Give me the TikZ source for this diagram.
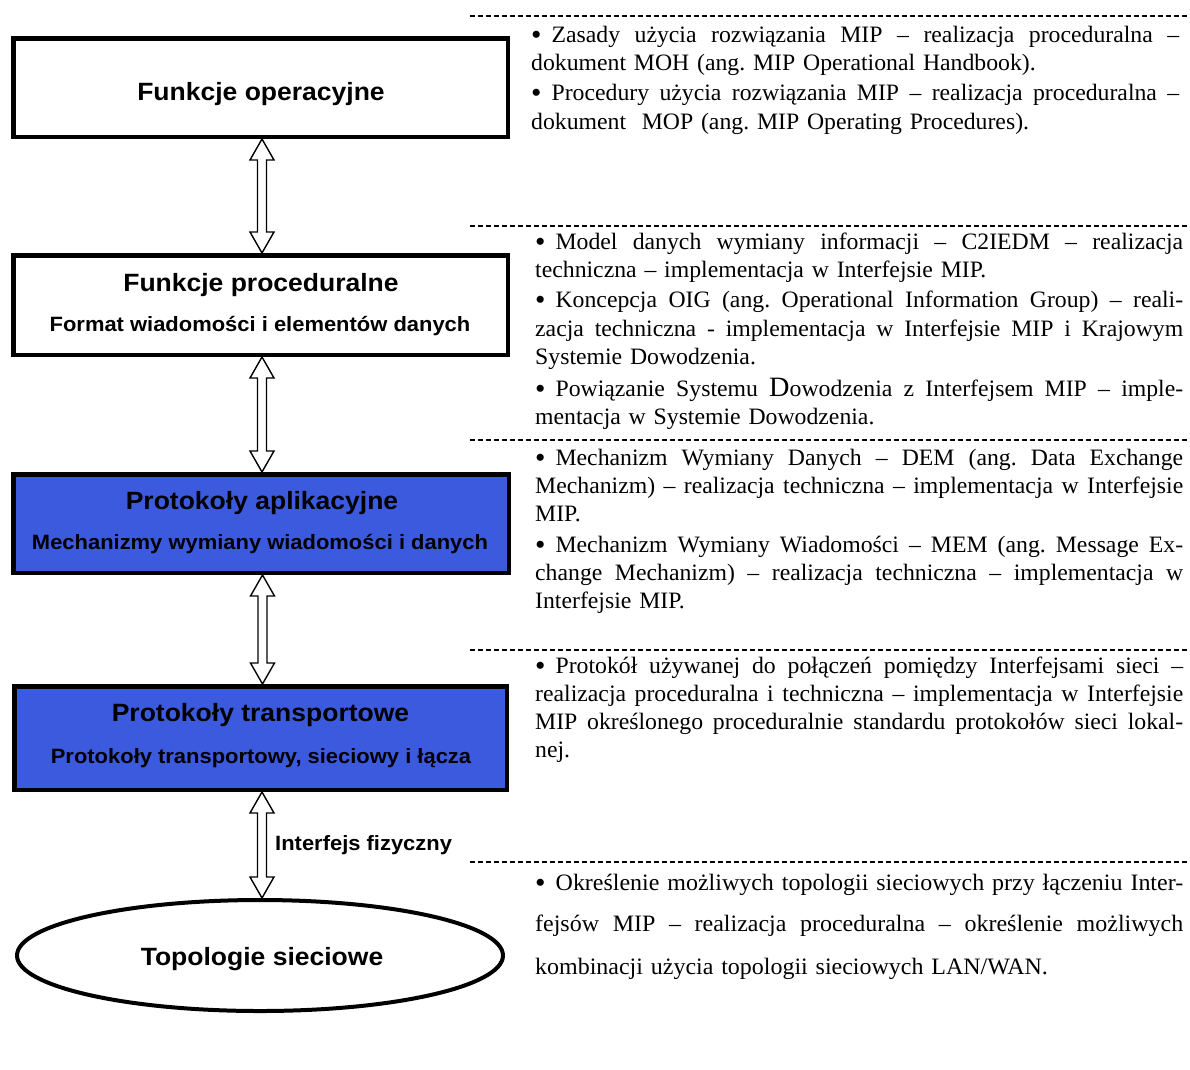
\documentclass[tikz,border=0pt]{standalone}
\usepackage{fontspec}
\setmainfont{Liberation Serif}
\newfontfamily\arialb[FakeStretch=1.06]{Liberation Sans}
\newfontfamily\rtfont[FakeStretch=1.01]{Liberation Serif}
\newfontfamily\rtfontn[FakeStretch=1.02]{Liberation Serif}
\usetikzlibrary{shapes.geometric,calc}
\definecolor{boxblue}{RGB}{60,90,222}
\newcommand\jline[1]{\hbox to 648pt{\spaceskip=\fontdimen2\font plus 1fil\relax #1}}
\newcommand\lline[1]{\hbox{#1}}
\newcommand\bul{\raisebox{-2pt}{\scalebox{1.25}{•}}\hskip 10pt\relax}
\newcommand\hollowarrow[2]{%
  \draw[harrow] let \p1=(#1), \p2=(#2) in
  (\x1+1.5pt,\y1) -- (\x1+13.5pt,\y1-21pt) -- (\x1+6pt,\y1-21pt) -- (\x1+6pt,\y2+21pt)
  -- (\x1+13.5pt,\y2+21pt) -- (\x1+1.5pt,\y2) -- (\x1-10.5pt,\y2+21pt) -- (\x1-3pt,\y2+21pt)
  -- (\x1-3pt,\y1-21pt) -- (\x1-10.5pt,\y1-21pt) -- cycle;}
\tikzset{
  box/.style={draw=black, line width=4.5pt, rectangle, inner sep=0pt},
  bluebox/.style={box, fill=boxblue},
  ttl/.style={font=\arialb\bfseries\fontsize{25}{30}\selectfont, inner sep=0pt, anchor=base},
  sub/.style={font=\arialb\bfseries\fontsize{20.7}{25}\selectfont, inner sep=0pt, anchor=base},
  harrow/.style={draw=black, fill=white, line width=1.4pt, line join=miter},
  dline/.style={dashed, dash pattern=on 4.5pt off 3.5pt, line width=1.1pt},
  txt/.style={font=\rtfont\fontsize{23.5}{28.2}\selectfont\frenchspacing, text width=648pt, inner sep=0pt, anchor=base west},
}
\begin{document}
\begin{tikzpicture}[x=1pt,y=-1pt]
\useasboundingbox (0,0) rectangle (1190,1069);
\fill[white] (0,0) rectangle (1190,1069);

% boxes
\node[box, minimum width=494.5pt, minimum height=98.5pt] (b1) at (260.5,87.5) {};
\node[box, minimum width=494.5pt, minimum height=99.5pt] (b2) at (260.5,305) {};
\node[bluebox, minimum width=495.5pt, minimum height=98.5pt] (b3) at (261,523.5) {};
\node[bluebox, minimum width=492.5pt, minimum height=103.5pt] (b4) at (260.5,738) {};
\node[draw=black, line width=4pt, ellipse, inner sep=0pt, minimum width=486pt, minimum height=111pt] (el) at (260,955.5) {};

% box texts
\node[ttl] (t1) at (261,100.7) {Funkcje operacyjne};
\node[ttl] (t2) at (261,291) {Funkcje proceduralne};
\node[sub] (s2) at (260,331.5) {Format wiadomości i elementów danych};
\node[ttl] (t3) at (262,509) {Protokoły aplikacyjne};
\node[sub] (s3) at (260,549) {Mechanizmy wymiany wiadomości i danych};
\node[ttl] (t4) at (260.5,721.5) {Protokoły transportowe};
\node[sub] (s4) at (261,763) {Protokoły transportowy, sieciowy i łącza};
\node[ttl] (t5) at (262,965) {Topologie sieciowe};
\node[sub, anchor=base west] (lif) at (275,850) {Interfejs fizyczny};

% arrows
\hollowarrow{b1.south}{b2.north}
\hollowarrow{b2.south}{b3.north}
\hollowarrow{b3.south}{b4.north}
\hollowarrow{b4.south}{el.north}

% dashed separators
\draw[dline] (470,16) -- (1187,16);
\draw[dline] (470,226) -- (1187,226);
\draw[dline] (470,440) -- (1187,440);
\draw[dline] (470,650) -- (1187,650);
\draw[dline] (470,862) -- (1187,862);

% right texts
\node[txt] (r1) at (531,42) {%
\jline{\bul Zasady użycia rozwiązania MIP – realizacja proceduralna –}
\lline{dokument MOH (ang. MIP Operational Handbook).}
\vskip2.5pt
\jline{\bul Procedury użycia rozwiązania MIP – realizacja proceduralna –}
\lline{dokument\ \ MOP (ang. MIP Operating Procedures).}};

\node[txt] (r2) at (535,249) {%
\jline{\bul Model danych wymiany informacji – C2IEDM – realizacja}
\lline{techniczna – implementacja w Interfejsie MIP.}
\vskip2.5pt
\jline{\bul Koncepcja OIG (ang. Operational Information Group) – reali-}
\jline{zacja techniczna - implementacja w Interfejsie MIP i Krajowym}
\lline{Systemie Dowodzenia.}
\vskip4pt
\jline{\bul Powiązanie Systemu {\fontsize{28}{28}\selectfont D}owodzenia z Interfejsem MIP – imple-}
\lline{mentacja w Systemie Dowodzenia.}};

\node[txt] (r3) at (535,465) {%
\jline{\bul Mechanizm Wymiany Danych – DEM (ang. Data Exchange}
\jline{Mechanizm) – realizacja techniczna – implementacja w Interfejsie}
\lline{MIP.}
\vskip2.5pt
\jline{\bul Mechanizm Wymiany Wiadomości – MEM (ang. Message Ex-}
\jline{change Mechanizm) – realizacja techniczna – implementacja w}
\lline{Interfejsie MIP.}};

\node[txt] (r4) at (535,673) {%
\jline{\bul Protokół używanej do połączeń pomiędzy Interfejsami sieci –}
\jline{realizacja proceduralna i techniczna – implementacja w Interfejsie}
\jline{MIP określonego proceduralnie standardu protokołów sieci lokal-}
\lline{nej.}};

\node[txt, font=\rtfontn\fontsize{23.5}{41}\selectfont\frenchspacing] (r5) at (535,890) {%
\jline{\bul Określenie możliwych topologii sieciowych przy łączeniu Inter-}
\jline{fejsów MIP – realizacja proceduralna – określenie możliwych}
\vskip2pt
\lline{kombinacji użycia topologii sieciowych LAN/WAN.}};
\end{tikzpicture}
\end{document}
